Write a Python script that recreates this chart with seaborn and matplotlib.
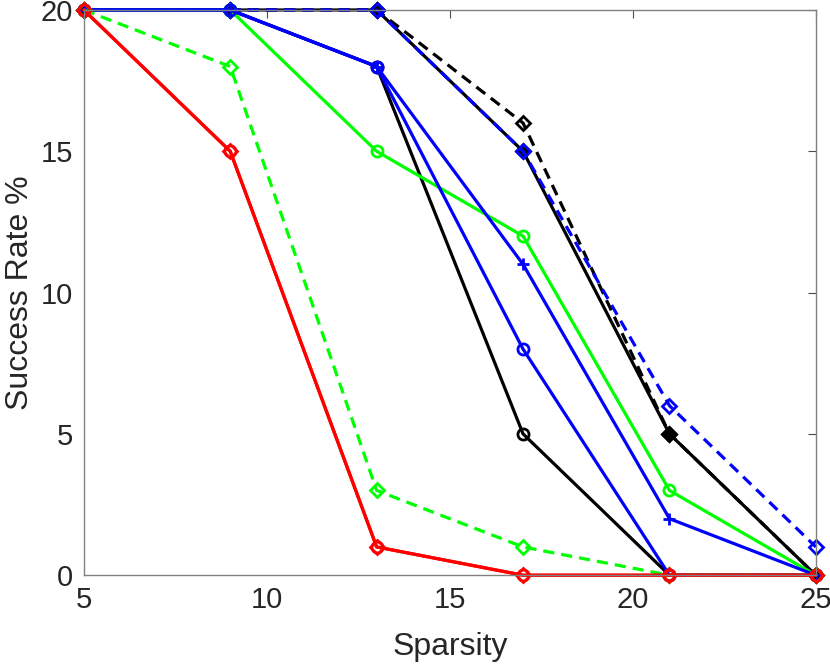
import numpy as np
import pandas as pd
import matplotlib
matplotlib.use("Agg")
import matplotlib.pyplot as plt
import seaborn as sns

# sparsity levels on the x axis
sparsity = [5, 9, 13, 17, 21, 25]

# success rate of each method
black_dash_d = [20, 20, 20, 16, 5, 0]
black_solid_d = [20, 20, 20, 15, 5, 0]
blue_dash_d = [20, 20, 20, 15, 6, 1]
black_solid_o = [20, 20, 18, 5, 0, 0]
green_solid_o = [20, 20, 15, 12, 3, 0]
blue_solid_o = [20, 20, 18, 8, 0, 0]
blue_solid_p = [20, 20, 18, 11, 2, 0]
green_dash_d = [20, 18, 3, 1, 0, 0]
red_solid_o = [20, 15, 1, 0, 0, 0]
red_solid_d = [20, 15, 1, 0, 0, 0]

xticks = [5, 10, 15, 20, 25]
yticks = [0, 5, 10, 15, 20]

sns.set_style("white")
plt.rcParams['font.family'] = ['Liberation Sans', 'DejaVu Sans']

fig = plt.figure(figsize=(8.3, 6.65), dpi=100)
ax = fig.add_axes([0.101, 0.135, 0.882, 0.85])

dash = (3.5, 2.2)
series = [
    (black_dash_d, 'black', dash, 'D', 'none'),
    (black_solid_d, 'black', None, 'D', 'black'),
    (blue_dash_d, 'blue', dash, 'D', 'none'),
    (black_solid_o, 'black', None, 'o', 'none'),
    (green_solid_o, 'lime', None, 'o', 'none'),
    (blue_solid_o, 'blue', None, 'o', 'none'),
    (blue_solid_p, 'blue', None, '+', 'none'),
    (green_dash_d, 'lime', dash, 'D', 'none'),
    (red_solid_o, 'red', None, 'o', 'none'),
    (red_solid_d, 'red', None, 'D', 'none'),
]

for vals, col, ds, mk, fc in series:
    df = pd.DataFrame({'Sparsity': sparsity, 'rate': vals})
    sns.lineplot(data=df, x='Sparsity', y='rate', color=col, marker=mk,
                 markersize=8 if mk != 'D' else 7, markeredgewidth=2,
                 markerfacecolor=fc, markeredgecolor=col,
                 linewidth=2.3, ax=ax, clip_on=False)
    if ds is not None:
        ax.lines[-1].set_dashes(ds)

ax.set_xlim(5, 25)
ax.set_ylim(0, 20)
ax.set_xticks(xticks)
ax.set_yticks(yticks)
ax.tick_params(direction='in', length=6, width=0.8, color='0.3',
               top=True, right=True, labelsize=21, labelcolor='0.15', pad=8)
for s in ax.spines.values():
    s.set_color('0.5')
    s.set_linewidth(1.0)
ax.set_xlabel('Sparsity', fontsize=23, color='0.15', labelpad=13)
ax.set_ylabel('Success Rate %', fontsize=23, color='0.15', labelpad=4)

fig.savefig('out.png', dpi=100)
